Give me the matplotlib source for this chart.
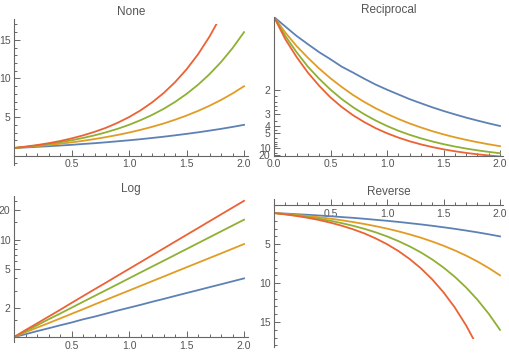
import numpy as np
import matplotlib.pyplot as plt
from matplotlib.patches import Rectangle
from matplotlib.ticker import FixedLocator, MultipleLocator, NullFormatter

# values (four growth curves on 0..2)
x = [0.0, 0.1, 0.2, 0.3, 0.4, 0.5, 0.6, 0.7, 0.8, 0.9, 1.0,
     1.1, 1.2, 1.3, 1.4, 1.5, 1.6, 1.7, 1.8, 1.9, 2.0]
blue = [1.00, 1.07, 1.15, 1.23, 1.32, 1.41, 1.52, 1.62, 1.74, 1.87, 2.00,
        2.14, 2.30, 2.46, 2.64, 2.83, 3.03, 3.25, 3.48, 3.73, 4.00]
orange = [1.00, 1.12, 1.25, 1.39, 1.55, 1.73, 1.93, 2.16, 2.41, 2.69, 3.00,
          3.35, 3.74, 4.17, 4.66, 5.20, 5.80, 6.47, 7.22, 8.06, 9.00]
green = [1.00, 1.15, 1.32, 1.52, 1.74, 2.00, 2.30, 2.64, 3.03, 3.48, 4.00,
         4.60, 5.28, 6.06, 6.96, 8.00, 9.19, 10.56, 12.13, 13.93, 16.00]
red = [1.00, 1.18, 1.38, 1.62, 1.90, 2.24, 2.63, 3.09, 3.62, 4.26, 5.00,
       5.87, 6.90, 8.10, 9.52, 11.18, 13.13, 15.43, 18.12, 21.28, 25.00]

series = [blue, orange, green, red]
colors = ['#5E81B5', '#E19C24', '#8FB032', '#EB6235']
titles = ['None', 'Reciprocal', 'Log', 'Reverse']

axis_col = '#666666'
text_col = '#555555'
plt.rcParams['font.family'] = ['Liberation Sans', 'DejaVu Sans']

W, H = 509, 355
fig = plt.figure(figsize=(W / 100, H / 100), dpi=100)


def box(left, right, top, bottom):
    return [left / W, (H - bottom) / H, (right - left) / W, (bottom - top) / H]


def style(ax, title):
    for s in ['top', 'right']:
        ax.spines[s].set_visible(False)
    for s in ['left', 'bottom']:
        ax.spines[s].set_color(axis_col)
        ax.spines[s].set_linewidth(0.8)
    ax.tick_params(which='both', direction='in', colors=axis_col,
                   labelcolor=text_col, labelsize=7.5, width=0.7, pad=2.5)
    ax.tick_params(which='major', length=4)
    ax.tick_params(which='minor', length=2)
    ax.set_title(title, fontsize=8.5, color=text_col, pad=3)
    ax.patch.set_alpha(0)


def x_ticks(ax, with_zero):
    ticks = [0.0, 0.5, 1.0, 1.5, 2.0] if with_zero else [0.5, 1.0, 1.5, 2.0]
    ax.xaxis.set_major_locator(FixedLocator(ticks))
    ax.set_xticklabels(['%.1f' % t for t in ticks])
    ax.xaxis.set_minor_locator(MultipleLocator(0.1))
    ax.set_xlim(0, 2.03)


# None
ax1 = fig.add_axes(box(14, 247.5, 19, 165))
for vals, c in zip(series, colors):
    ln, = ax1.plot(x, vals, color=c, lw=1.3)
    ln.set_clip_path(Rectangle((0, -1.2), 2.03, 18.3, transform=ax1.transData))
ax1.set_ylim(-1.2, 17.7)
ax1.spines['bottom'].set_position(('data', 0))
x_ticks(ax1, False)
ax1.yaxis.set_major_locator(FixedLocator([5, 10, 15]))
ax1.yaxis.set_minor_locator(MultipleLocator(1))
style(ax1, titles[0])

# Reciprocal
ax2 = fig.add_axes(box(274, 503.4, 17, 156))


def neg_recip(v):
    v = np.asarray(v, dtype=float)
    with np.errstate(divide='ignore'):
        return -1.0 / v


ax2.set_yscale('function', functions=(neg_recip, neg_recip))
for vals, c in zip(series, colors):
    ax2.plot(x, vals, color=c, lw=1.3)
ax2.set_ylim(23, 1)
x_ticks(ax2, True)
ax2.yaxis.set_major_locator(FixedLocator([2, 3, 4, 5, 10, 20]))
ax2.set_yticklabels(['2', '3', '4', '5', '10', '20'])
ax2.yaxis.set_minor_locator(FixedLocator([2.2, 2.4, 2.6, 2.8, 3.5, 4.5,
                                          6, 7, 8, 9, 15]))
ax2.yaxis.set_minor_formatter(NullFormatter())
style(ax2, titles[1])

# Log
ax3 = fig.add_axes(box(14, 247.5, 196, 342))
ax3.set_yscale('log')
for vals, c in zip(series, colors):
    ax3.plot(x, vals, color=c, lw=1.3)
ax3.set_ylim(0.89, 28)
ax3.spines['bottom'].set_position(('data', 1))
x_ticks(ax3, False)
ax3.yaxis.set_major_locator(FixedLocator([2, 5, 10, 20]))
ax3.set_yticklabels(['2', '5', '10', '20'])
ax3.yaxis.set_minor_locator(FixedLocator([1.5, 3, 4, 6, 7, 8, 9, 15, 25]))
ax3.yaxis.set_minor_formatter(NullFormatter())
style(ax3, titles[2])

# Reverse
ax4 = fig.add_axes(box(274, 503.4, 199, 347))
for vals, c in zip(series, colors):
    ln, = ax4.plot(x, vals, color=c, lw=1.3)
    ln.set_clip_path(Rectangle((0, -0.8), 2.03, 18.0, transform=ax4.transData))
ax4.set_ylim(18.2, -0.8)
ax4.spines['bottom'].set_position(('data', 0))
x_ticks(ax4, False)
ax4.yaxis.set_major_locator(FixedLocator([5, 10, 15]))
ax4.yaxis.set_minor_locator(MultipleLocator(1))
style(ax4, titles[3])

fig.savefig('out.png', dpi=100)
